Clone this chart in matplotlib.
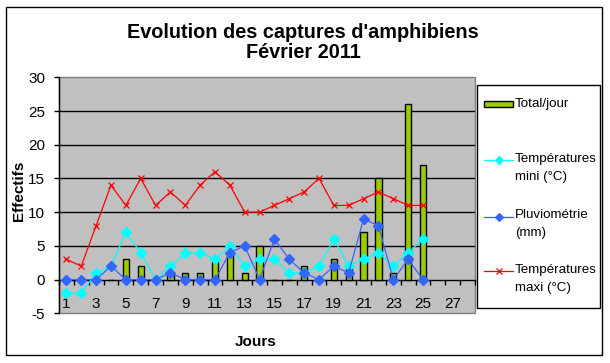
import matplotlib
matplotlib.use("Agg")
import matplotlib.pyplot as plt
from matplotlib.patches import Rectangle
from matplotlib.lines import Line2D
import numpy as np

plt.rcParams['font.family'] = ['Liberation Sans', 'DejaVu Sans']

# ---- data ----
days = list(range(1, 26))
total_jour = [0, 0, 0, 0, 3, 2, 0, 1, 1, 1, 3, 4, 1, 5, 0, 0, 2, 0, 3, 2, 7, 15, 1, 26, 17]
temp_mini = [-2, -2, 1, 2, 7, 4, 0, 2, 4, 4, 3, 5, 2, 3, 3, 1, 1, 2, 6, 2, 3, 4, 2, 4, 6]
pluvio = [0, 0, 0, 2, 0, 0, 0, 1, 0, 0, 0, 4, 5, 0, 6, 3, 1, 0, 2, 1, 9, 8, 0, 3, 0]
temp_maxi = [3, 2, 8, 14, 11, 15, 11, 13, 11, 14, 16, 14, 10, 10, 11, 12, 13, 15, 11, 11, 12, 13, 12, 11, 11]
n_categories = 28
x_labels = [str(i) for i in range(1, 28, 2)]
y_ticks = [-5, 0, 5, 10, 15, 20, 25, 30]

title = "Evolution des captures d'amphibiens\nFévrier 2011"
legend_labels = ["Total/jour", "Températures\nmini (°C)", "Pluviométrie\n(mm)", "Températures\nmaxi (°C)"]

W, H = 610, 363
fig = plt.figure(figsize=(W / 100, H / 100), dpi=100)
fig.patch.set_facecolor('white')

def fx(x):
    return x / W

def fy(y):
    return 1 - y / H

# plot area
L, R, T, B = 59, 475, 77.3, 313.3
ax = fig.add_axes([fx(L), fy(B), (R - L) / W, (B - T) / H])
ax.set_facecolor('#C0C0C0')

GREEN = '#99CC00'
CYAN = '#00FFFF'
BLUE = '#3366FF'
RED = '#FF0000'

ax.bar(days, total_jour, width=0.42, color=GREEN, edgecolor='black', linewidth=1, zorder=3)
ax.plot(days, temp_mini, color=CYAN, lw=0.9, marker='D', ms=4.6, mec=CYAN, mfc=CYAN, zorder=4)
ax.plot(days, pluvio, color=BLUE, lw=0.9, marker='D', ms=5, mec=BLUE, mfc=BLUE, zorder=5)
ax.plot(days, temp_maxi, color=RED, lw=0.9, marker='x', ms=5, mew=0.9, zorder=6)

ax.set_xlim(0.5, n_categories + 0.5)
ax.set_ylim(-5, 30)

for g in [5, 10, 15, 20, 25]:
    ax.axhline(g, color='black', lw=1, zorder=1)

# spines
for s in ['top', 'right']:
    ax.spines[s].set_visible(False)
ax.spines['left'].set_color('black')
ax.spines['left'].set_linewidth(1)
ax.spines['bottom'].set_position(('data', 0))
ax.spines['bottom'].set_color('black')
ax.spines['bottom'].set_linewidth(1)
ax.add_patch(Rectangle((0, 0), 1, 1, transform=ax.transAxes, fill=False,
                       edgecolor='#808080', lw=1, zorder=0.5, clip_on=False))

ax.set_yticks(y_ticks)
ax.set_yticklabels([str(v) for v in y_ticks])
ax.tick_params(axis='y', direction='out', length=3.6, width=1, pad=6.5, labelsize=11)

ax.set_xticks(np.arange(0.5, n_categories + 1, 1))
ax.set_xticklabels([])
ax.tick_params(axis='x', which='major', direction='out', length=3.6, width=1)
ax.set_xticks(list(range(1, 28, 2)), minor=True)
ax.set_xticklabels(x_labels, minor=True)
ax.tick_params(axis='x', which='minor', length=0, pad=12.5, labelsize=11)

# titles / labels
fig.text(fx(303), fy(42.5), title, ha='center', va='center', fontsize=14.3,
         fontweight='bold', linespacing=1.05)
fig.text(fx(19), fy(190.5), "Effectifs", rotation=90, ha='center', va='center',
         fontsize=11, fontweight='bold')
fig.text(fx(256), fy(342.5), "Jours", ha='center', va='center', fontsize=11, fontweight='bold')

# legend (manual box)
fig.add_artist(Rectangle((fx(477), fy(308)), (600 - 477) / W, (308 - 85) / H,
                         transform=fig.transFigure, facecolor='white', edgecolor='black', lw=1))
fig.add_artist(Rectangle((fx(484), fy(107)), 29 / W, 6 / H, transform=fig.transFigure,
                         facecolor=GREEN, edgecolor='black', lw=1))
fs_leg = 9.6
tx = fx(515)
fig.text(tx, fy(104), legend_labels[0], ha='left', va='center', fontsize=fs_leg)
specs = [(CYAN, 'D', 160, 159, 177, legend_labels[1]),
         (BLUE, 'D', 216.7, 215, 233, legend_labels[2]),
         (RED, 'x', 271, 270, 287.5, legend_labels[3])]
for col, mk, ly, t1, t2, lab in specs:
    fig.add_artist(Line2D([fx(484), fx(513)], [fy(ly), fy(ly)], transform=fig.transFigure,
                          color=col, lw=0.9))
    fig.add_artist(Line2D([fx(498.5)], [fy(ly)], transform=fig.transFigure, color=col,
                          marker=mk, ms=4.5, mfc=col, mec=col, mew=0.9, lw=0))
    a, b = lab.split("\n")
    fig.text(tx, fy(t1), a, ha='left', va='center', fontsize=fs_leg)
    fig.text(tx, fy(t2), b, ha='left', va='center', fontsize=fs_leg)

# outer border
fig.add_artist(Rectangle((fx(6), fy(355)), (602 - 6) / W, (355 - 7) / H,
                         transform=fig.transFigure, fill=False, edgecolor='black', lw=1))

fig.savefig("out.png", dpi=100)
